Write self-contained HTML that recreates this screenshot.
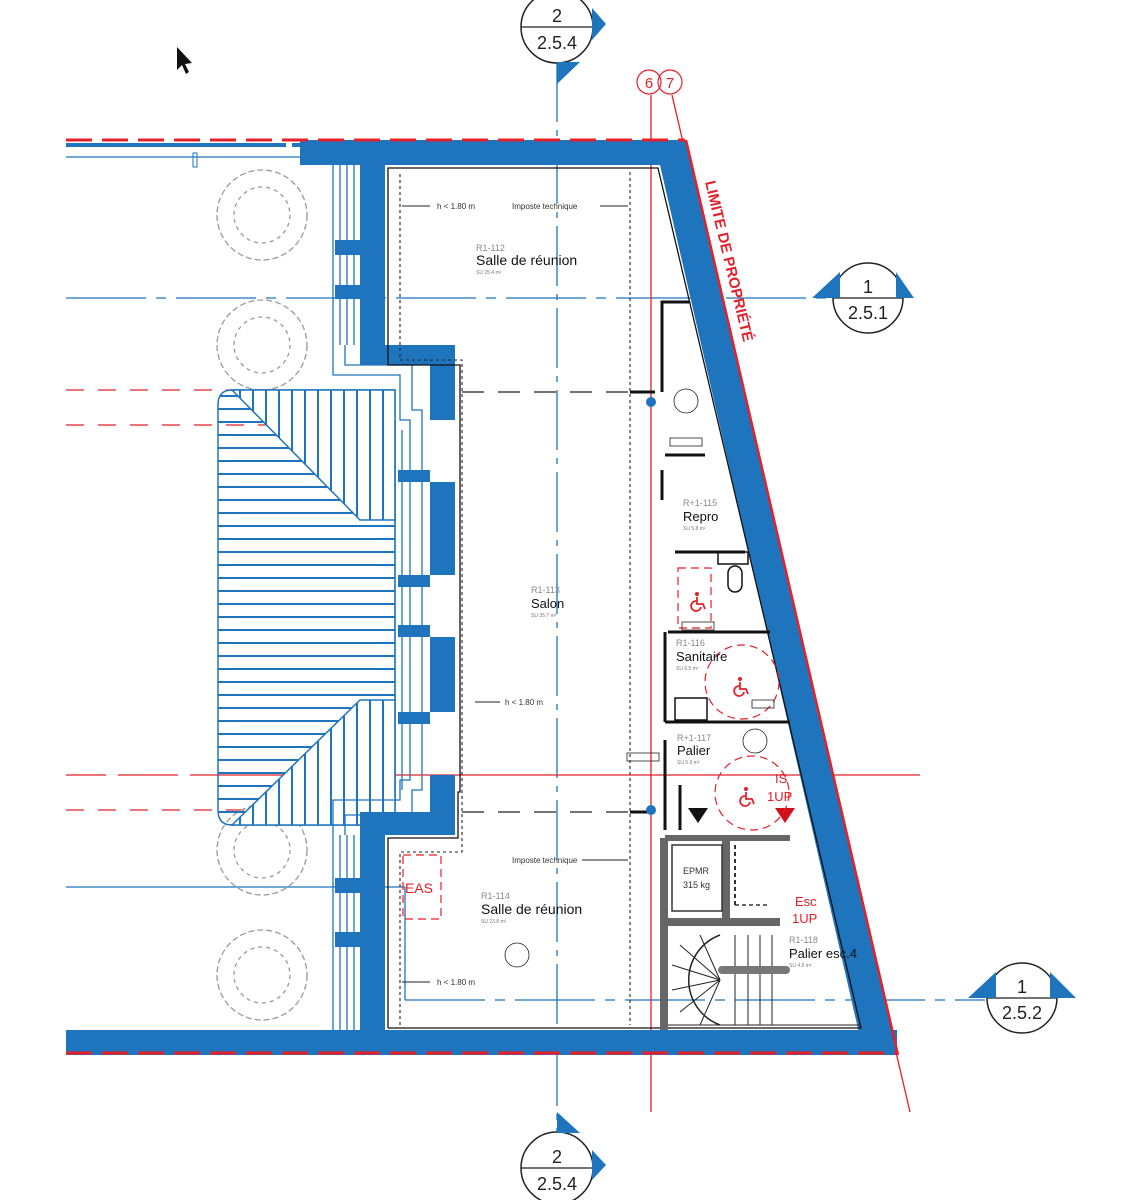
<!DOCTYPE html>
<html><head><meta charset="utf-8"><style>
html,body{margin:0;padding:0;background:#fff;}
svg{display:block;font-family:"Liberation Sans",sans-serif;}
</style></head><body>
<svg width="1148" height="1200" viewBox="0 0 1148 1200" xmlns="http://www.w3.org/2000/svg">
<defs>
<pattern id="hatch" width="10" height="13" patternUnits="userSpaceOnUse">
<line x1="0" y1="6" x2="10" y2="6" stroke="#1e75bd" stroke-width="2"/>
</pattern>
<pattern id="vhatch" width="13" height="10" patternUnits="userSpaceOnUse">
<line x1="6" y1="0" x2="6" y2="10" stroke="#1e75bd" stroke-width="2"/>
</pattern>
<g id="wc">
<circle cx="0" cy="-8" r="2" fill="#e5202a"/>
<path d="M0,-5 L0,2 L6,2 L8,7 M-1,-1 A5,5 0 1 0 4,5" fill="none" stroke="#e5202a" stroke-width="1.8"/>
</g>
</defs>
<rect width="1148" height="1200" fill="#fff"/>

<polygon points="177,47 177,70 182,65 186,74 189,72 185,64 192,63" fill="#111"/>

<line x1="557" y1="62" x2="557" y2="1140" stroke="#1e75bd" stroke-width="1.3" stroke-dasharray="60,8,6,8"/>
<line x1="66" y1="298" x2="830" y2="298" stroke="#1e75bd" stroke-width="1.3" stroke-dasharray="80,10,10,10"/>
<line x1="405" y1="1000" x2="985" y2="1000" stroke="#1e75bd" stroke-width="1.3" stroke-dasharray="80,10,10,10"/>
<line x1="66" y1="887" x2="405" y2="887" stroke="#1e75bd" stroke-width="1.3"/>
<line x1="405" y1="887" x2="405" y2="1000" stroke="#1e75bd" stroke-width="1.3"/>
<line x1="66" y1="775" x2="920" y2="775" stroke="#e5202a" stroke-width="1.3" stroke-dasharray="40,12,60,12,900"/>
<line x1="66" y1="390" x2="280" y2="390" stroke="#e5202a" stroke-width="1.3" stroke-dasharray="18,14"/>
<line x1="66" y1="425" x2="280" y2="425" stroke="#e5202a" stroke-width="1.3" stroke-dasharray="18,14"/>
<line x1="66" y1="810" x2="280" y2="810" stroke="#e5202a" stroke-width="1.3" stroke-dasharray="18,14"/>
<line x1="651" y1="95" x2="651" y2="1112" stroke="#e5202a" stroke-width="1.3"/>
<line x1="672" y1="95" x2="910" y2="1112" stroke="#e5202a" stroke-width="1.3"/>

<g fill="none" stroke="#999" stroke-width="1.3">
<circle cx="262" cy="215" r="45" stroke-dasharray="6,3"/><circle cx="262" cy="215" r="28" stroke-dasharray="4,4"/>
<circle cx="262" cy="345" r="45" stroke-dasharray="6,3"/><circle cx="262" cy="345" r="28" stroke-dasharray="4,4"/>
<circle cx="262" cy="850" r="45" stroke-dasharray="6,3"/><circle cx="262" cy="850" r="28" stroke-dasharray="4,4"/>
<circle cx="262" cy="975" r="45" stroke-dasharray="6,3"/><circle cx="262" cy="975" r="28" stroke-dasharray="4,4"/>
</g>

<path d="M232,390 L395,390 L395,825 L232,825 Q218,825 218,810 L218,405 Q218,390 232,390 Z" fill="url(#hatch)" stroke="#1e75bd" stroke-width="1.5"/>
<polygon points="232,390 395,390 395,520 360,520" fill="#fff"/>
<polygon points="232,390 395,390 395,520 360,520" fill="url(#vhatch)" stroke="#1e75bd" stroke-width="1.5"/>
<polygon points="232,825 395,825 395,700 360,700" fill="#fff"/>
<polygon points="232,825 395,825 395,700 360,700" fill="url(#vhatch)" stroke="#1e75bd" stroke-width="1.5"/>

<line x1="66" y1="145" x2="300" y2="145" stroke="#1e75bd" stroke-width="4" stroke-dasharray="220,6"/>
<line x1="66" y1="157" x2="300" y2="157" stroke="#1e75bd" stroke-width="1.3"/>
<rect x="193" y="153" width="4" height="14" fill="none" stroke="#1e75bd"/>

<g stroke="#1e75bd" stroke-width="1.3" fill="none">
<line x1="333" y1="165" x2="333" y2="345"/><line x1="340" y1="165" x2="340" y2="345"/><line x1="347" y1="165" x2="347" y2="345"/><line x1="354" y1="165" x2="354" y2="345"/>
<line x1="333" y1="835" x2="333" y2="1030"/><line x1="340" y1="835" x2="340" y2="1030"/><line x1="347" y1="835" x2="347" y2="1030"/><line x1="354" y1="835" x2="354" y2="1030"/>
<polyline points="333,345 333,375 400,375 400,420 410,420 410,780 400,780 400,800 333,800 333,835"/>
<polyline points="345,345 345,365 412,365 412,410 422,410 422,790 412,790 412,815 345,815 345,835"/>
<line x1="395" y1="420" x2="395" y2="800"/><line x1="402" y1="430" x2="402" y2="790"/>
</g>
<rect x="335" y="240" width="25" height="15" fill="#1e75bd"/><rect x="335" y="285" width="25" height="14" fill="#1e75bd"/>
<rect x="335" y="878" width="25" height="15" fill="#1e75bd"/><rect x="335" y="932" width="25" height="15" fill="#1e75bd"/>
<rect x="398" y="470" width="32" height="12" fill="#1e75bd"/><rect x="398" y="575" width="32" height="12" fill="#1e75bd"/>
<rect x="398" y="625" width="32" height="12" fill="#1e75bd"/><rect x="398" y="712" width="32" height="12" fill="#1e75bd"/>

<g fill="#1e75bd">
<polygon points="300,140 685,140 660,165 300,165"/>
<polygon points="660,140 685,140 897,1055 864,1055 660,165"/>
<rect x="66" y="1030" width="831" height="25"/>
<polygon points="360,140 385,140 385,345 455,345 455,420 430,420 430,365 360,365"/>
<rect x="430" y="482" width="25" height="93"/>
<rect x="430" y="637" width="25" height="75"/>
<polygon points="430,775 455,775 455,835 385,835 385,1030 360,1030 360,812 430,812"/>
</g>
<line x1="66" y1="140" x2="685" y2="140" stroke="#e5202a" stroke-width="3" stroke-dasharray="26,10"/>
<line x1="66" y1="1053" x2="897" y2="1053" stroke="#e5202a" stroke-width="3" stroke-dasharray="26,10"/>
<line x1="686" y1="140" x2="898" y2="1055" stroke="#e5202a" stroke-width="2.5"/>

<g fill="none" stroke="#111" stroke-width="1.3">
<polyline points="388,1028 388,838 458,838 458,792 460,792 460,365 388,365 388,168 658,168 861,1028 388,1028"/>
</g>
<g fill="none" stroke="#222" stroke-width="1.1" stroke-dasharray="3,3">
<polyline points="400,1025 400,852 462,852 462,360 400,360 400,172"/>
<line x1="630" y1="172" x2="630" y2="1025"/>
</g>
<g stroke="#222" stroke-width="1.3" stroke-dasharray="22,14">
<line x1="462" y1="392" x2="650" y2="392"/>
<line x1="462" y1="812" x2="650" y2="812"/>
</g>
<line x1="630" y1="392" x2="655" y2="392" stroke="#111" stroke-width="3"/>
<line x1="630" y1="812" x2="655" y2="812" stroke="#111" stroke-width="3"/>
<circle cx="651" cy="402" r="5" fill="#1e75bd"/><circle cx="651" cy="810" r="5" fill="#1e75bd"/>

<g stroke="#222" stroke-width="1" fill="#222">
<line x1="402" y1="206" x2="430" y2="206"/><line x1="600" y1="206" x2="628" y2="206"/>
<line x1="475" y1="702" x2="500" y2="702"/><line x1="582" y1="860" x2="628" y2="860"/>
<line x1="402" y1="982" x2="430" y2="982"/>
</g>
<g font-size="8" fill="#333">
<text x="437" y="209">h &lt; 1.80 m</text>
<text x="512" y="209">Imposte technique</text>
<text x="505" y="705">h &lt; 1.80 m</text>
<text x="512" y="863">Imposte technique</text>
<text x="437" y="985">h &lt; 1.80 m</text>
</g>

<g stroke="#111" stroke-width="3" fill="none">
<polyline points="690,302 662,302 662,392"/>
<line x1="662" y1="470" x2="662" y2="500"/>
<polyline points="665,455 705,455"/>
<polyline points="675,552 745,552"/>
<polyline points="668,632 770,632"/>
<polyline points="665,632 665,722"/>
<polyline points="665,722 790,722"/>
<line x1="665" y1="740" x2="665" y2="830"/>
<line x1="680" y1="785" x2="680" y2="830"/>
</g>
<line x1="665" y1="838" x2="790" y2="838" stroke="#666" stroke-width="6"/>
<rect x="660" y="838" width="8" height="192" fill="#666"/>
<rect x="665" y="918" width="115" height="8" fill="#666"/>
<rect x="722" y="838" width="8" height="80" fill="#666"/>
<rect x="672" y="845" width="50" height="66" fill="none" stroke="#333" stroke-width="1.5"/>
<line x1="735" y1="845" x2="735" y2="905" stroke="#333" stroke-width="2" stroke-dasharray="4,3"/>
<line x1="735" y1="905" x2="770" y2="905" stroke="#333" stroke-width="1.5" stroke-dasharray="4,3"/>
<rect x="718" y="552" width="30" height="12" fill="none" stroke="#111" stroke-width="1.5"/>
<rect x="728" y="566" width="14" height="26" rx="7" fill="none" stroke="#111" stroke-width="1.5"/>
<rect x="675" y="698" width="32" height="22" fill="none" stroke="#111" stroke-width="1.5"/>
<g stroke="#222" stroke-width="1" fill="none">
<path d="M720,935 A48,48 0 0 0 720,1025" stroke-width="1.5"/>
<line x1="720" y1="980" x2="680" y2="945"/><line x1="720" y1="980" x2="672" y2="965"/><line x1="720" y1="980" x2="672" y2="990"/><line x1="720" y1="980" x2="680" y2="1012"/><line x1="720" y1="980" x2="700" y2="1025"/><line x1="720" y1="980" x2="700" y2="935"/>
<line x1="735" y1="935" x2="735" y2="1025"/><line x1="748" y1="935" x2="748" y2="1025"/><line x1="760" y1="935" x2="760" y2="1025"/><line x1="772" y1="935" x2="772" y2="1025"/>
<line x1="668" y1="1025" x2="860" y2="1025"/>
</g>
<rect x="718" y="966" width="72" height="8" rx="4" fill="#777"/>
<polygon points="688,808 708,808 698,823" fill="#111"/>
<polygon points="775,808 795,808 785,823" fill="#d0101a"/>

<g fill="none" stroke="#e5202a" stroke-width="1.2" stroke-dasharray="8,5">
<rect x="678" y="568" width="33" height="60"/>
<circle cx="742" cy="682" r="37"/>
<circle cx="752" cy="793" r="37"/>
<rect x="403" y="855" width="38" height="64"/>
</g>
<use href="#wc" x="697" y="602"/>
<use href="#wc" x="740" y="687"/>
<use href="#wc" x="746" y="797"/>

<g font-size="5" fill="#333" stroke="#222" stroke-width="0.8">
<rect x="670" y="438" width="32" height="8" fill="none"/>
<rect x="682" y="622" width="32" height="8" fill="none"/>
<rect x="752" y="700" width="22" height="8" fill="none"/>
<rect x="627" y="753" width="32" height="8" fill="none"/>
<circle cx="686" cy="401" r="12" fill="none"/>
<circle cx="755" cy="741" r="12" fill="none"/>
<circle cx="517" cy="955" r="12" fill="none"/>
</g>

<g fill="#111">
<text x="476" y="251" font-size="9" fill="#888">R1-112</text>
<text x="476" y="265" font-size="14">Salle de réunion</text>
<text x="476" y="274" font-size="5" fill="#777">SU 25.4 m²</text>
<text x="531" y="593" font-size="9" fill="#888">R1-113</text>
<text x="531" y="608" font-size="13">Salon</text>
<text x="531" y="617" font-size="5" fill="#777">SU 35.7 m²</text>
<text x="481" y="899" font-size="9" fill="#888">R1-114</text>
<text x="481" y="914" font-size="14">Salle de réunion</text>
<text x="481" y="923" font-size="5" fill="#777">SU 23.8 m²</text>
<text x="683" y="506" font-size="9" fill="#888">R+1-115</text>
<text x="683" y="521" font-size="13">Repro</text>
<text x="683" y="530" font-size="5" fill="#777">SU 5.8 m²</text>
<text x="676" y="646" font-size="9" fill="#888">R1-116</text>
<text x="676" y="661" font-size="13">Sanitaire</text>
<text x="676" y="670" font-size="5" fill="#777">SU 6.5 m²</text>
<text x="677" y="741" font-size="9" fill="#888">R+1-117</text>
<text x="677" y="755" font-size="13">Palier</text>
<text x="677" y="764" font-size="5" fill="#777">SU 5.9 m²</text>
<text x="789" y="943" font-size="9" fill="#888">R1-118</text>
<text x="789" y="958" font-size="13">Palier esc.4</text>
<text x="789" y="967" font-size="5" fill="#777">SU 4.9 m²</text>
<text x="683" y="874" font-size="9" fill="#333">EPMR</text>
<text x="683" y="888" font-size="9" fill="#333">315 kg</text>
</g>
<g fill="#e5202a" font-size="13">
<text x="795" y="906">Esc</text>
<text x="792" y="923">1UP</text>
<text x="775" y="783">IS</text>
<text x="767" y="801">1UP</text>
<text x="405" y="893" font-size="14">EAS</text>
</g>
<text transform="translate(705,182) rotate(76.5)" fill="#e5202a" font-size="15" font-weight="bold">LIMITE DE PROPRIÉTÉ</text>

<g stroke="#222" stroke-width="1.5" fill="#fff">
<circle cx="557" cy="27" r="36"/>
<circle cx="557" cy="1168" r="36"/>
<circle cx="868" cy="298" r="35"/>
<circle cx="1022" cy="998" r="35"/>
</g>
<g stroke="#222" stroke-width="1.2">
<line x1="521" y1="27" x2="593" y2="27"/>
<line x1="521" y1="1168" x2="593" y2="1168"/>
<line x1="833" y1="298" x2="903" y2="298"/>
<line x1="987" y1="998" x2="1057" y2="998"/>
</g>
<g fill="#1e75bd">
<polygon points="592,8 606,24 592,40"/>
<polygon points="557,62 580,62 557,84"/>
<polygon points="592,1150 606,1165 592,1180"/>
<polygon points="557,1133 580,1133 557,1112"/>
<polygon points="812,298 840,272 840,298"/>
<polygon points="896,272 914,298 896,298"/>
<polygon points="968,998 996,972 996,998"/>
<polygon points="1050,972 1076,998 1050,998"/>
</g>
<g fill="#222" font-size="18" text-anchor="middle">
<text x="557" y="22">2</text><text x="557" y="49">2.5.4</text>
<text x="557" y="1163">2</text><text x="557" y="1190">2.5.4</text>
<text x="868" y="293">1</text><text x="868" y="319">2.5.1</text>
<text x="1022" y="993">1</text><text x="1022" y="1019">2.5.2</text>
</g>
<g fill="none" stroke="#e5202a" stroke-width="1.2">
<circle cx="649" cy="82" r="12"/><circle cx="670" cy="82" r="12"/>
</g>
<g fill="#e5202a" font-size="15" text-anchor="middle">
<text x="649" y="88">6</text><text x="670" y="88">7</text>
</g>
</svg>
</body></html>
